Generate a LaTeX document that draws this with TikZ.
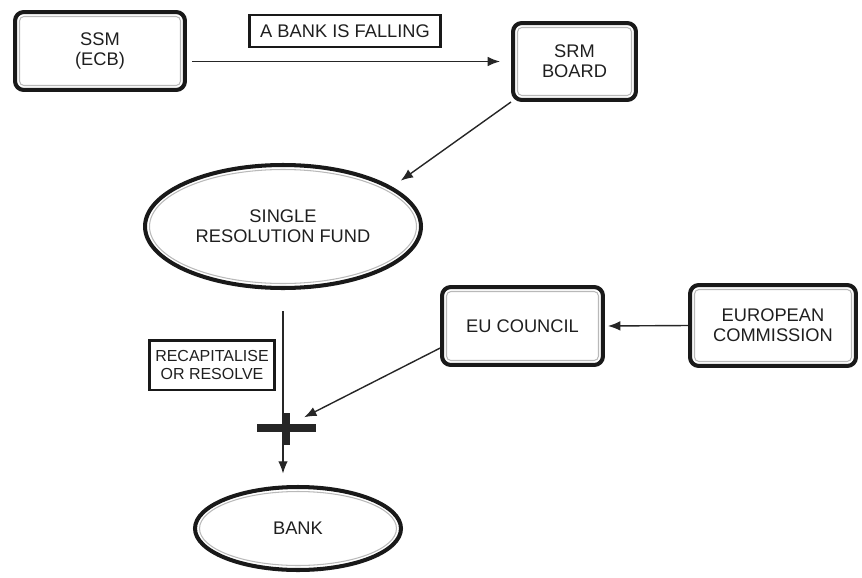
\documentclass[tikz,border=0pt]{standalone}
\usepackage{fontspec}
\setmainfont{Liberation Sans}
\usepackage{tikz}
\usetikzlibrary{arrows.meta, shapes.geometric}

\begin{document}
\begin{tikzpicture}[x=0.02cm, y=-0.02cm,
        every node/.style={font=\fontsize{10.4}{11.6}\selectfont, text=black!88, align=center},
        rbox/.style={draw=gray!55, line width=0.6pt, rounded corners=2.5pt, outer sep=3.7pt, inner sep=0pt},
        ebox/.style={ellipse, draw=gray!55, line width=0.6pt, outer sep=3.7pt, inner sep=0pt},
        rim/.style={draw=black!90, line width=2.3pt},
        tag/.style={draw=black!90, line width=1.7pt, inner sep=0pt},
        conn/.style={draw=black!85, line width=0.8pt, -{Latex[length=7pt, width=5.5pt]}}]
        \useasboundingbox (0,0) rectangle (862,578);
        \node[rbox, minimum width=3.22cm, minimum height=1.38cm] (ssm) at (100,51) {SSM\\(ECB)};
        \node[rbox, minimum width=2.28cm, minimum height=1.36cm] (srm) at (574.5,61.5) {SRM\\BOARD};
        \node[rbox, minimum width=3.04cm, minimum height=1.38cm] (euc) at (522.5,326) {EU COUNCIL};
        \node[rbox, minimum width=3.14cm, minimum height=1.44cm] (ec) at (773,325.5) {EUROPEAN\\COMMISSION};
        \node[ebox, minimum width=5.34cm, minimum height=2.28cm] (srf) at (283,226.5) {SINGLE\\RESOLUTION FUND};
        \node[ebox, minimum width=3.94cm, minimum height=1.48cm] (bank) at (298,528.5) {BANK};
        \node[tag, minimum width=3.84cm, minimum height=0.64cm] (falling) at (345,31) {A BANK IS FALLING};
        \node[tag, minimum width=2.52cm, minimum height=1cm, font=\fontsize{9.1}{10.6}\selectfont] (recap) at (212,365) {RECAPITALISE\\OR RESOLVE};
        \foreach \n in {ssm, srm, euc, ec}
            \draw[rim, rounded corners=5pt] ([shift={(1.15pt,-1.15pt)}]\n.north west) rectangle ([shift={(-1.15pt,1.15pt)}]\n.south east);
        \draw[rim] (srf.center) ellipse (2.76cm and 1.23cm);
        \draw[rim] (bank.center) ellipse (2.06cm and 0.83cm);
        \coordinate (cross) at (srf.south |- 0,428);
        \draw[conn, shorten <=2.8pt, shorten >=6.3pt] (ssm.east |- srm.west) -- (srm.west);
        \draw[conn, shorten >=6pt] (srm.south west) -- (srf.20);
        \draw[conn, shorten <=12pt, shorten >=6.5pt] (srf.south) -- (srf.south |- bank.north);
        \draw[conn, shorten >=1.7pt] (ec.west) -- (euc.east);
        \draw[conn, shorten >=13.5pt] (euc.195) -- (cross);
        \draw[line width=4.5pt, black!85] ([xshift=-0.52cm]cross) -- ([xshift=0.66cm]cross);
        \draw[line width=4.5pt, black!85] ([shift={(0.07cm,0.3cm)}]cross) -- ([shift={(0.07cm,-0.34cm)}]cross);
    \end{tikzpicture}
\end{document}
